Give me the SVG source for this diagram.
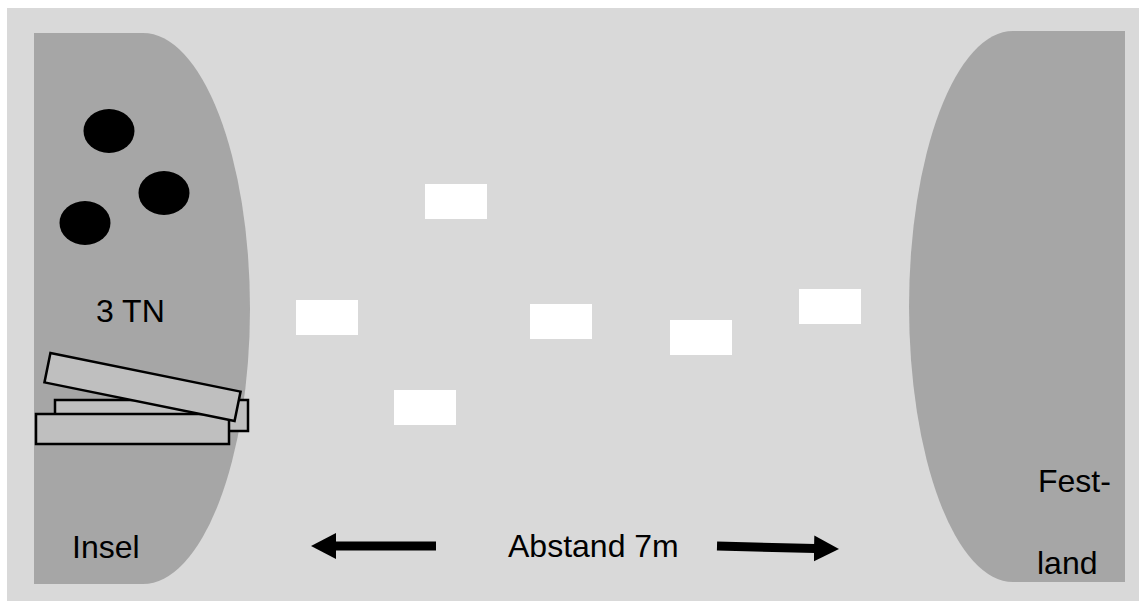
<svg xmlns="http://www.w3.org/2000/svg" width="1139" height="601" viewBox="0 0 1139 601">
  <style>
    .label { font-family: "Liberation Sans", Arial, sans-serif; font-size: 32px; fill: #000; }
    .land { fill: #a6a6a6; }
    .stone { fill: #ffffff; }
    .tn { fill: #000; }
    .plank { fill: #bfbfbf; stroke: #000; stroke-width: 2.5; }
    .shaft { stroke: #000; stroke-width: 9; fill: none; }
  </style>
  <defs>
    <marker id="head" markerUnits="userSpaceOnUse" markerWidth="26" markerHeight="28" refX="1" refY="14" orient="auto">
      <path d="M0,1 L25,14 L0,27 Z" fill="#000"/>
    </marker>
  </defs>

  <!-- water -->
  <rect x="7" y="8" width="1132" height="593" fill="#d9d9d9"/>

  <!-- island -->
  <g id="insel">
    <path class="land" d="M34,33 H143 A107,275.5 0 0 1 143,584 H34 Z"/>
    <text class="label" x="72" y="558">Insel</text>
  </g>

  <!-- mainland -->
  <g id="festland">
    <path class="land" d="M1125,31 H1013 A104,275.5 0 0 0 1013,582 H1125 Z"/>
    <text class="label" x="1038" y="492">Fest-</text>
    <text class="label" x="1037" y="574">land</text>
  </g>

  <!-- participants -->
  <g id="teilnehmer">
    <ellipse class="tn" cx="109" cy="131" rx="25.5" ry="22"/>
    <ellipse class="tn" cx="164" cy="193" rx="25.5" ry="22"/>
    <ellipse class="tn" cx="85" cy="223" rx="25.5" ry="22"/>
    <text class="label" x="96" y="322">3 TN</text>
  </g>

  <!-- planks -->
  <g id="bretter">
    <rect class="plank" x="55" y="400" width="193" height="31"/>
    <rect class="plank" x="36" y="414" width="193" height="30"/>
    <rect class="plank" x="-97" y="-15" width="194" height="30" transform="translate(142.5 387) rotate(11.5)"/>
  </g>

  <!-- stepping stones -->
  <g id="steine">
    <rect class="stone" x="425" y="184" width="62" height="35"/>
    <rect class="stone" x="296" y="300" width="62" height="35"/>
    <rect class="stone" x="394" y="390" width="62" height="35"/>
    <rect class="stone" x="530" y="304" width="62" height="35"/>
    <rect class="stone" x="670" y="320" width="62" height="35"/>
    <rect class="stone" x="799" y="289" width="62" height="35"/>
  </g>

  <!-- distance arrows -->
  <g id="abstand">
    <path class="shaft" d="M436,546 L335,546" marker-end="url(#head)"/>
    <path class="shaft" d="M717,546 L815,548.5" marker-end="url(#head)"/>
    <text class="label" x="508" y="557">Abstand 7m</text>
  </g>
</svg>
